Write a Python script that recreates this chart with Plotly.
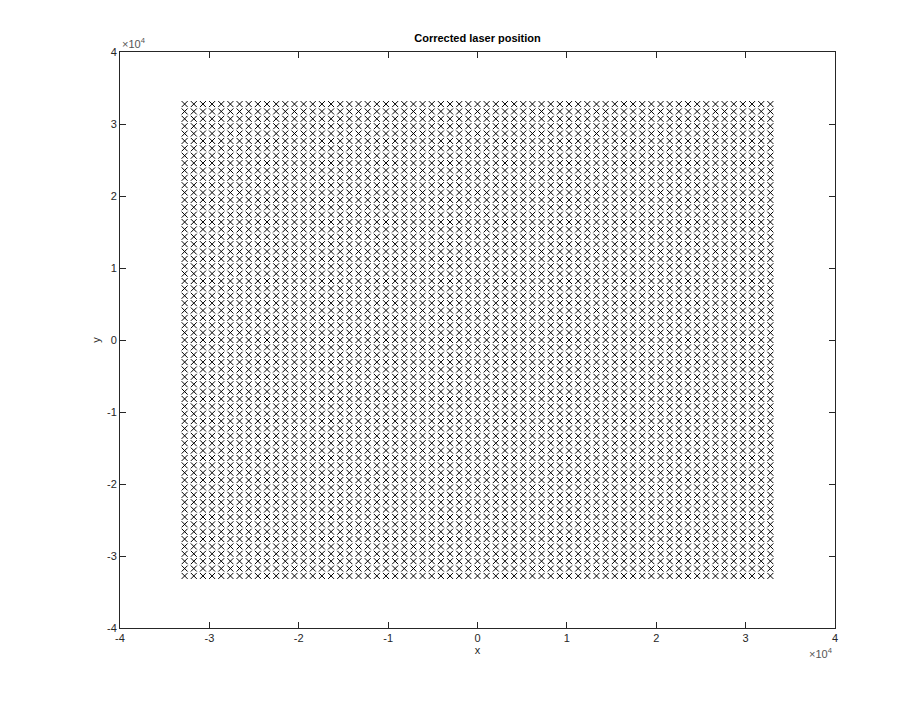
import plotly.graph_objects as go

# Grid coordinates of the corrected laser positions (same along x and y)
grid_coords = [-32768, -31744, -30720, -29696, -28672, -27648, -26624, -25600,
               -24576, -23552, -22528, -21504, -20480, -19456, -18432, -17408,
               -16384, -15360, -14336, -13312, -12288, -11264, -10240, -9216,
               -8192, -7168, -6144, -5120, -4096, -3072, -2048, -1024,
               0, 1024, 2048, 3072, 4096, 5120, 6144, 7168,
               8192, 9216, 10240, 11264, 12288, 13312, 14336, 15360,
               16384, 17408, 18432, 19456, 20480, 21504, 22528, 23552,
               24576, 25600, 26624, 27648, 28672, 29696, 30720, 31744, 32768]

tick_vals = [-40000, -30000, -20000, -10000, 0, 10000, 20000, 30000, 40000]
tick_text = ["-4", "-3", "-2", "-1", "0", "1", "2", "3", "4"]

xs = [x for x in grid_coords for _ in grid_coords]
ys = [y for _ in grid_coords for y in grid_coords]

FONT = "Liberation Sans, Arial, sans-serif"

fig = go.Figure()
fig.add_trace(go.Scatter(
    x=xs, y=ys, mode="markers",
    marker=dict(symbol="x-thin", size=6, line=dict(width=1, color="#000000"), color="#000000"),
    showlegend=False, hoverinfo="skip",
))

axis_common = dict(
    range=[-40000, 40000], tickmode="array", tickvals=tick_vals, ticktext=tick_text,
    ticks="inside", ticklen=6, tickcolor="#262626", tickwidth=1,
    showline=True, linecolor="#262626", linewidth=1, mirror="ticks",
    showgrid=False, zeroline=False,
    tickfont=dict(family=FONT, size=11, color="#262626"),
)

fig.update_layout(
    width=924, height=707,
    margin=dict(l=112, r=97, t=44, b=87),
    paper_bgcolor="white", plot_bgcolor="white",
    title=dict(text="<b>Corrected laser position</b>", x=0.5, xanchor="center",
               xref="paper",
               y=1 - 30 / 707, yanchor="middle",
               font=dict(family=FONT, size=11, color="#000000")),
    xaxis=dict(**axis_common,
               title=dict(text="x", standoff=3,
                          font=dict(family=FONT, size=11, color="#262626"))),
    yaxis=dict(**axis_common,
               title=dict(text="y", standoff=4,
                          font=dict(family=FONT, size=11, color="#262626"))),
    annotations=[
        dict(text="×10<sup>4</sup>", xref="paper", yref="paper", x=0, y=1,
             xanchor="left", yanchor="bottom", showarrow=False, yshift=0,
             font=dict(family=FONT, size=11, color="#555555")),
        dict(text="×10<sup>4</sup>", xref="paper", yref="paper", x=1, y=0,
             xanchor="right", yanchor="top", showarrow=False, yshift=-16,
             font=dict(family=FONT, size=11, color="#555555")),
    ],
)

fig.write_html("out.html")
